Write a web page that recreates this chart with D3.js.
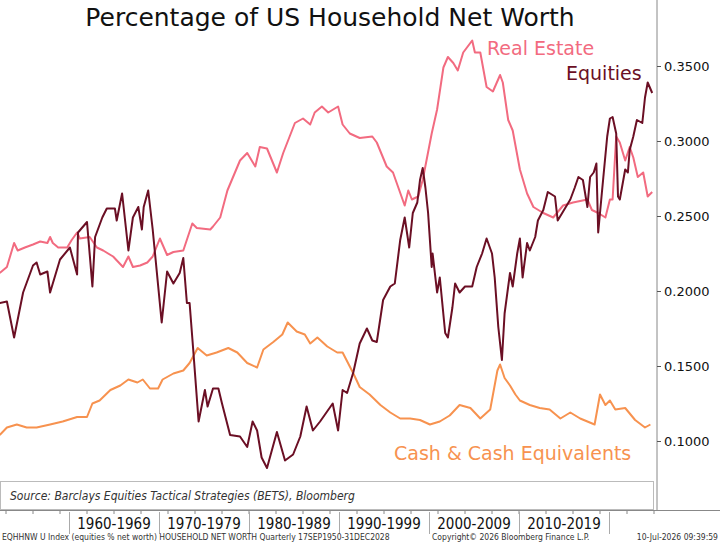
<!DOCTYPE html>
<html><head><meta charset="utf-8">
<script src="https://cdn.jsdelivr.net/npm/d3@7"></script>
<style>body{margin:0;background:#fff}svg{display:block}</style>
</head><body>
<script>
const eqYears=[1952.3,1953.1,1953.9,1954.9,1956.0,1956.4,1956.8,1957.6,1957.9,1959.0,1960.1,1960.9,1961.0,1962.0,1962.6,1962.9,1963.7,1964.2,1965.1,1965.3,1965.9,1966.6,1967.1,1967.7,1968.1,1968.3,1968.8,1969.3,1970.3,1970.9,1971.6,1972.3,1972.7,1973.1,1973.4,1973.8,1974.4,1975.1,1975.4,1976.0,1976.6,1977.0,1977.9,1979.0,1979.8,1980.4,1980.9,1981.4,1982.0,1983.1,1984.0,1984.9,1985.7,1986.4,1987.1,1987.9,1989.3,1989.9,1990.4,1990.9,1991.6,1992.3,1993.1,1993.7,1994.2,1994.9,1995.7,1996.2,1996.8,1997.3,1997.8,1998.2,1998.7,1999.0,1999.3,1999.6,1999.9,2000.3,2000.4,2000.9,2001.2,2001.8,2002.1,2002.6,2002.9,2003.4,2004.0,2004.8,2005.3,2005.9,2006.4,2007.0,2007.3,2007.7,2008.1,2008.4,2009.0,2009.3,2009.8,2010.1,2010.4,2010.9,2011.2,2011.8,2012.1,2012.7,2013.2,2014.0,2014.3,2014.9,2015.7,2016.2,2016.6,2017.1,2017.6,2017.9,2018.3,2018.6,2018.8,2019.2,2019.8,2020.1,2020.4,2020.8,2021.0,2021.2,2021.8,2022.1,2022.3,2022.7,2023.1,2023.7,2024.0,2024.3,2024.8];
const eqValues=[0.192,0.193,0.169,0.199,0.217,0.219,0.211,0.213,0.199,0.221,0.229,0.211,0.239,0.246,0.203,0.236,0.249,0.255,0.255,0.247,0.265,0.227,0.249,0.256,0.241,0.256,0.267,0.241,0.179,0.213,0.205,0.212,0.222,0.192,0.192,0.161,0.113,0.134,0.123,0.135,0.135,0.125,0.104,0.103,0.096,0.113,0.107,0.089,0.082,0.106,0.087,0.091,0.103,0.123,0.107,0.113,0.125,0.107,0.134,0.132,0.146,0.165,0.175,0.167,0.166,0.194,0.203,0.205,0.234,0.249,0.229,0.252,0.259,0.274,0.282,0.269,0.252,0.216,0.225,0.199,0.209,0.172,0.169,0.189,0.205,0.199,0.203,0.203,0.216,0.225,0.235,0.225,0.209,0.176,0.154,0.185,0.212,0.203,0.225,0.235,0.209,0.232,0.227,0.236,0.247,0.254,0.266,0.263,0.247,0.253,0.261,0.269,0.276,0.274,0.256,0.276,0.279,0.285,0.239,0.265,0.303,0.315,0.316,0.305,0.263,0.261,0.281,0.279,0.294,0.303,0.314,0.312,0.329,0.339,0.332];
const reYears=[1952.3,1953.1,1953.9,1954.3,1955.1,1956.0,1956.8,1957.6,1957.9,1958.2,1958.8,1959.8,1960.3,1960.9,1961.2,1962.3,1963.1,1963.8,1964.9,1966.0,1966.6,1967.1,1967.9,1968.7,1969.3,1970.1,1970.9,1971.6,1972.7,1973.2,1973.7,1974.2,1975.7,1976.0,1976.8,1977.6,1979.0,1979.8,1980.7,1981.2,1982.0,1983.1,1983.8,1985.1,1986.0,1986.8,1987.3,1988.1,1988.8,1989.9,1990.4,1991.2,1992.3,1993.7,1994.2,1995.3,1996.0,1997.3,1997.7,1998.1,1998.8,1999.3,2000.3,2000.9,2001.6,2002.1,2002.7,2003.2,2003.8,2004.8,2005.1,2005.7,2006.4,2007.1,2007.9,2008.2,2008.8,2009.3,2010.1,2010.9,2011.6,2012.7,2013.8,2014.9,2016.0,2017.6,2018.1,2018.8,2019.6,2020.1,2020.4,2020.8,2021.2,2021.8,2022.3,2022.7,2023.2,2023.8,2024.3,2024.8];
const reValues=[0.212,0.216,0.232,0.227,0.229,0.231,0.233,0.232,0.236,0.232,0.229,0.229,0.234,0.239,0.235,0.236,0.229,0.227,0.223,0.216,0.223,0.216,0.217,0.219,0.223,0.235,0.224,0.226,0.227,0.236,0.245,0.242,0.241,0.243,0.249,0.267,0.287,0.292,0.283,0.296,0.295,0.279,0.292,0.312,0.315,0.311,0.319,0.323,0.319,0.323,0.311,0.305,0.302,0.303,0.299,0.283,0.279,0.257,0.267,0.261,0.263,0.274,0.305,0.321,0.349,0.356,0.352,0.347,0.359,0.367,0.359,0.359,0.336,0.333,0.344,0.339,0.314,0.307,0.281,0.265,0.256,0.252,0.249,0.257,0.259,0.261,0.254,0.252,0.249,0.261,0.261,0.303,0.299,0.287,0.296,0.289,0.276,0.279,0.263,0.266];
const cashYears=[1952.3,1953.1,1954.2,1955.3,1956.4,1957.9,1959.3,1960.9,1962.0,1962.6,1963.4,1964.6,1965.7,1966.6,1967.6,1968.2,1969.0,1969.9,1970.4,1971.6,1972.7,1973.4,1974.3,1975.3,1976.4,1977.7,1978.7,1979.8,1980.9,1981.6,1982.7,1983.7,1984.3,1985.3,1986.2,1986.8,1987.6,1988.7,1989.8,1990.4,1991.6,1992.3,1993.4,1994.6,1995.7,1996.8,1997.9,1999.0,2000.1,2001.2,2002.3,2003.4,2004.6,2005.7,2006.8,2007.6,2007.9,2008.4,2009.0,2009.6,2010.1,2011.2,2012.3,2013.4,2014.6,2015.7,2016.8,2018.4,2019.0,2019.6,2020.1,2020.7,2021.8,2022.9,2024.0,2024.6];
const cashValues=[0.104,0.109,0.111,0.109,0.109,0.111,0.113,0.116,0.116,0.125,0.127,0.134,0.137,0.141,0.139,0.141,0.135,0.135,0.141,0.145,0.147,0.152,0.162,0.157,0.159,0.162,0.159,0.152,0.149,0.161,0.166,0.171,0.179,0.173,0.171,0.165,0.169,0.163,0.159,0.159,0.145,0.136,0.131,0.124,0.119,0.115,0.115,0.114,0.111,0.113,0.117,0.124,0.122,0.115,0.121,0.147,0.151,0.142,0.137,0.131,0.127,0.124,0.122,0.121,0.115,0.119,0.115,0.111,0.131,0.124,0.127,0.121,0.122,0.114,0.109,0.111];
const yTicks=[0.10,0.15,0.20,0.25,0.30,0.35];
const decades=["1960-1969","1970-1979","1980-1989","1990-1999","2000-2009","2010-2019"];
const decadeStarts=[1960,1970,1980,1990,2000,2010];

const W=720,H=542;
const svg=d3.select("body").append("svg").attr("width",W).attr("height",H);
const x=d3.scaleLinear().domain([1960,2020]).range([69,609]);
const y=d3.scaleLinear().domain([0.10,0.35]).range([441,66]);
const F="Tahoma, 'DejaVu Sans', sans-serif";
const FN="'DejaVu Sans Condensed', 'DejaVu Sans', sans-serif";

svg.append("line").attr("x1",657).attr("x2",657).attr("y1",0).attr("y2",510).attr("stroke","#888");
const ra=svg.append("g").attr("transform","translate(657,0)").call(d3.axisRight(y).tickValues(yTicks).tickFormat(d3.format(".4f")).tickSize(4));
ra.select(".domain").remove();
ra.selectAll("text").attr("font-family",F).attr("font-size",13).attr("fill","#111").attr("x",7);
ra.selectAll("line").attr("stroke","#555");

svg.append("rect").attr("x",0.5).attr("y",481.5).attr("width",653).attr("height",28).attr("fill","#fff").attr("stroke","#bbb");
svg.append("text").attr("x",10).attr("y",500).attr("font-family",FN).attr("font-size",12).attr("font-style","italic").attr("fill","#333").text("Source: Barclays Equities Tactical Strategies (BETS), Bloomberg");

svg.append("line").attr("x1",0).attr("x2",720).attr("y1",510.5).attr("y2",510.5).attr("stroke","#888");
const years=d3.range(1953,2027,3);
svg.selectAll(".yt").data(years).join("line").attr("x1",d=>x(d)).attr("x2",d=>x(d)).attr("y1",510).attr("y2",514).attr("stroke","#888");
svg.selectAll(".dv").data(decadeStarts.concat([2020])).join("line").attr("x1",d=>x(d)+0.5).attr("x2",d=>x(d)+0.5).attr("y1",512).attr("y2",534).attr("stroke","#aaa");
svg.selectAll(".dl").data(decades).join("text").attr("x",(d,i)=>x(decadeStarts[i]+5)).attr("y",529).attr("text-anchor","middle").attr("font-family",FN).attr("font-size",15).attr("fill","#111").text(d=>d);
const foot=[["EQHHNW U Index (equities % net worth) HOUSEHOLD NET WORTH Quarterly 17SEP1950-31DEC2028",2,"start"],["Copyright© 2026 Bloomberg Finance L.P.",432,"start"],["10-Jul-2026 09:39:59",718,"end"]];
svg.selectAll(".ft").data(foot).join("text").attr("x",d=>d[1]).attr("y",540).attr("text-anchor",d=>d[2]).attr("font-family",FN).attr("font-size",8.5).attr("fill","#333").text(d=>d[0]);

const line=d3.line().x(d=>x(d[0])).y(d=>y(d[1]));
const series=[[cashYears,cashValues,"#f7924f"],[reYears,reValues,"#f26b80"],[eqYears,eqValues,"#6b0f24"]];
series.forEach(([ys,vs,c])=>{
  svg.append("path").datum(ys.map((t,i)=>[t,vs[i]])).attr("d",line).attr("fill","none").attr("stroke",c).attr("stroke-width",2).attr("stroke-linejoin","round");
});

svg.append("text").attr("x",330).attr("y",26).attr("text-anchor","middle").attr("font-family",F).attr("font-size",25).attr("fill","#111").text("Percentage of US Household Net Worth");
svg.append("text").attr("x",487).attr("y",55).attr("font-family",F).attr("font-size",19).attr("fill","#f26b80").text("Real Estate");
svg.append("text").attr("x",566).attr("y",80).attr("font-family",F).attr("font-size",19).attr("fill","#6b0f24").text("Equities");
svg.append("text").attr("x",394).attr("y",460).attr("font-family",F).attr("font-size",19).attr("fill","#f7924f").text("Cash & Cash Equivalents");
</script>
</body></html>
